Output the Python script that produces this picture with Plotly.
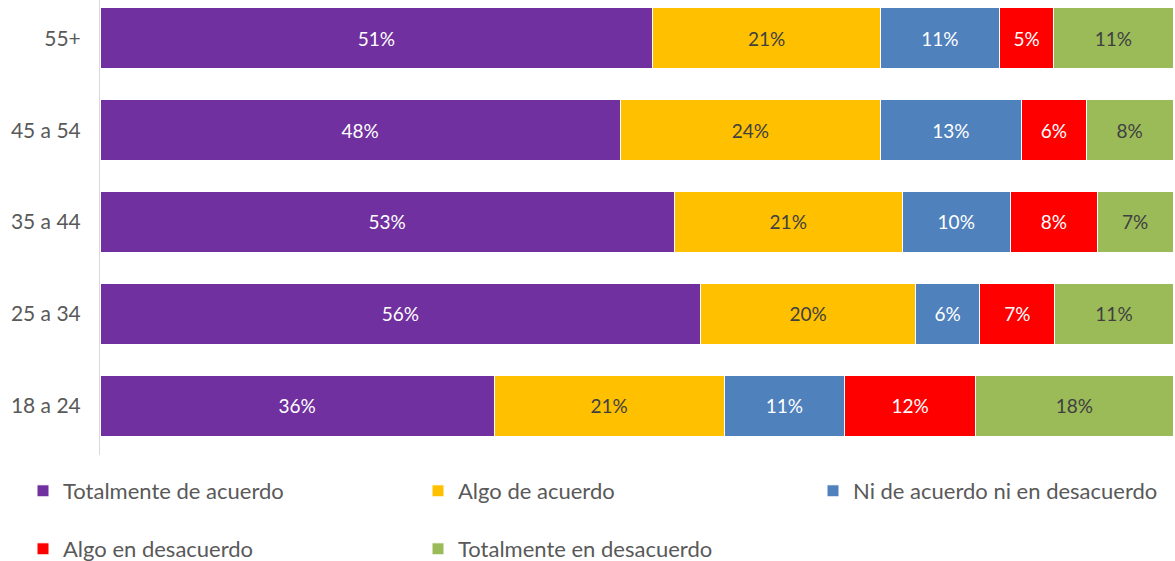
import plotly.graph_objects as go

categories = ["18 a 24", "25 a 34", "35 a 44", "45 a 54", "55+"]
series_names = ["Totalmente de acuerdo", "Algo de acuerdo", "Ni de acuerdo ni en desacuerdo",
                "Algo en desacuerdo", "Totalmente en desacuerdo"]
totalmente_acuerdo = [36, 56, 53, 48, 51]
algo_acuerdo = [21, 20, 21, 24, 21]
ni_ni = [11, 6, 10, 13, 11]
algo_desacuerdo = [12, 7, 8, 6, 5]
totalmente_desacuerdo = [18, 11, 7, 8, 11]

series_values = [totalmente_acuerdo, algo_acuerdo, ni_ni, algo_desacuerdo, totalmente_desacuerdo]
colors = ["#7030A0", "#FFC000", "#4F81BD", "#FF0000", "#9BBB59"]
text_colors = ["#FFFFFF", "#404040", "#FFFFFF", "#FFFFFF", "#404040"]

FONT = "Lato, 'Open Sans', sans-serif"
W, H = 1175, 561
# legend entry positions (left px, center-y px from top)
legend_pos = [(23, 491), (418, 491), (813, 491), (23, 549), (418, 549)]

fig = go.Figure()
legend_layout = {}
for i, (name, vals, c, tc) in enumerate(zip(series_names, series_values, colors, text_colors)):
    lid = "legend" if i == 0 else f"legend{i + 1}"
    fig.add_trace(go.Bar(
        y=categories, x=vals, name=name, orientation="h",
        marker=dict(color=c, line=dict(color="#FFFFFF", width=1)),
        text=[f"{v}%" for v in vals], textposition="inside",
        insidetextanchor="middle",
        textfont=dict(color=tc, size=19, family=FONT),
        legend=lid, hoverinfo="skip",
    ))
    px, py = legend_pos[i]
    legend_layout[lid] = dict(orientation="h", xref="container", yref="container",
                              x=px / W, y=1 - py / H, xanchor="left", yanchor="middle",
                              font=dict(size=22, color="#595959", family=FONT),
                              bgcolor="rgba(0,0,0,0)")

fig.update_layout(
    barmode="stack", barnorm="percent", bargap=0.337,
    width=W, height=H,
    margin=dict(l=100, r=2, t=0, b=106, autoexpand=False),
    plot_bgcolor="white", paper_bgcolor="white",
    font=dict(family=FONT, color="#595959", size=19),
    uniformtext=dict(minsize=19, mode="show"),
    xaxis=dict(range=[0, 100], showgrid=False, showticklabels=False, zeroline=False,
               showline=False, fixedrange=True, automargin=False),
    yaxis=dict(range=[-0.538, 4.418], showgrid=False, showline=True, linecolor="#D9D9D9",
               linewidth=1, ticks="", ticklabelstandoff=14, automargin=False, fixedrange=True,
               tickfont=dict(size=21, color="#595959", family=FONT)),
    showlegend=True,
    **legend_layout,
)

fig.write_html("out.html", config={"displayModeBar": False},
               post_script="document.body.style.margin='0';document.body.style.padding='0';")
